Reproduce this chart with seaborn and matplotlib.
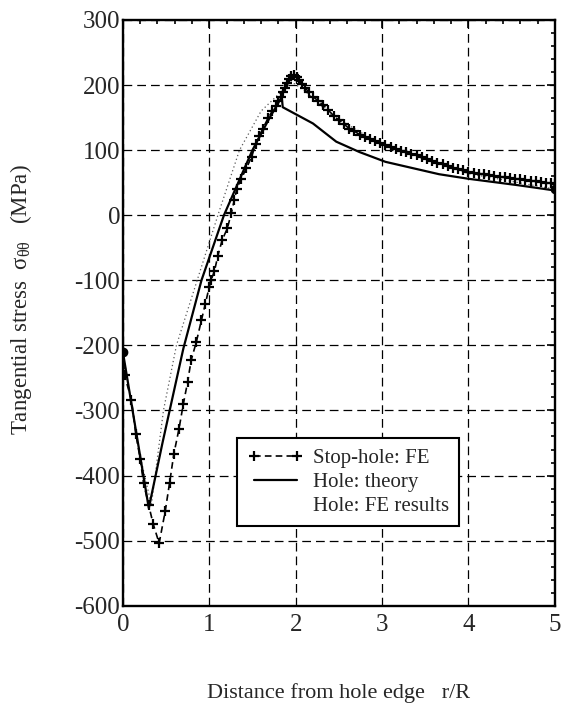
import numpy as np
import pandas as pd
import matplotlib
matplotlib.use("Agg")
import matplotlib.pyplot as plt
from matplotlib.ticker import MultipleLocator
import seaborn as sns

# ---------------- data ----------------
stop_x = [0.00, 0.02, 0.10, 0.15, 0.20, 0.24, 0.30, 0.35, 0.42, 0.49, 0.54, 0.59,
          0.65, 0.70, 0.75, 0.79, 0.85, 0.91, 0.955, 1.00, 1.02, 1.06, 1.10, 1.15,
          1.21, 1.255, 1.29, 1.32, 1.37, 1.43, 1.49, 1.54, 1.58, 1.62, 1.68, 1.73,
          1.77, 1.80, 1.825, 1.85, 1.88, 1.90, 1.92, 1.95, 1.98, 2.01, 2.04, 2.07,
          2.11, 2.15, 2.20, 2.26, 2.32, 2.38, 2.44, 2.50, 2.56, 2.62, 2.68, 2.74,
          2.80, 2.86, 2.92, 2.98, 3.04, 3.10, 3.16, 3.22, 3.28, 3.34, 3.40, 3.46,
          3.52, 3.58, 3.64, 3.70, 3.76, 3.82, 3.88, 3.94, 4.00, 4.06, 4.12, 4.18,
          4.24, 4.30, 4.36, 4.42, 4.48, 4.54, 4.60, 4.66, 4.72, 4.78, 4.84, 4.90,
          4.96, 5.00]
stop_y = [-210, -246, -284, -336, -374, -412, -446, -474, -504, -455, -412, -367,
          -328, -290, -256, -223, -195, -161, -136, -110, -100, -86, -62, -38,
          -20, 3, 23, 41, 56, 72, 90, 110, 122, 133, 149, 160,
          168, 175, 182, 190, 196, 203, 210, 214, 215, 212, 208, 202,
          196, 189, 182, 176, 169, 161, 153, 146, 140, 133, 129, 124,
          120, 117, 114, 111, 108, 105, 102, 99, 97, 94, 92, 89,
          86, 83, 80, 78, 75, 73, 71, 69, 67, 65, 64, 63,
          62, 60, 59, 58, 57, 56, 55, 54, 53, 52, 51, 50,
          49, 48]

theory_x = [0.00, 0.30, 0.46, 0.70, 0.91, 1.17, 1.50, 1.70, 1.84, 1.85, 2.20,
            2.47, 2.74, 3.04, 3.66, 4.00, 4.58, 5.00]
theory_y = [-210, -450, -349, -205, -100, 0, 100, 150, 182, 166, 141,
            113, 97, 82, 63, 56, 46, 38]

fe_x = [0.00, 0.08, 0.20, 0.33, 0.47, 0.62, 0.86, 1.10, 1.35, 1.60, 1.85,
        1.95, 2.10, 2.40, 3.00, 4.00, 5.00]
fe_y = [-210, -274, -370, -445, -300, -200, -100, 0, 100, 160, 192,
        205, 192, 155, 108, 64, 40]

labels = ["Stop-hole: FE", "Hole: theory", "Hole: FE results"]
x_ticks = [0, 1, 2, 3, 4, 5]
y_ticks = [-600, -500, -400, -300, -200, -100, 0, 100, 200, 300]

# ---------------- style ----------------
sns.set_theme(style="white")
plt.rcParams["font.family"] = ["Liberation Serif", "DejaVu Serif"]
plt.rcParams["mathtext.fontset"] = "custom"
plt.rcParams["mathtext.rm"] = "Liberation Serif"
plt.rcParams["mathtext.it"] = "Liberation Serif"
plt.rcParams["mathtext.bf"] = "Liberation Serif:bold"
plt.rcParams["axes.unicode_minus"] = False

fig = plt.figure(figsize=(5.61, 7.03), dpi=100)
ax = fig.add_axes([0.219, 0.1384, 0.770, 0.8332])

df_stop = pd.DataFrame({"x": stop_x, "y": stop_y})
df_theory = pd.DataFrame({"x": theory_x, "y": theory_y})
df_fe = pd.DataFrame({"x": fe_x, "y": fe_y})

sns.lineplot(data=df_fe, x="x", y="y", ax=ax, sort=False, estimator=None,
             color="0.35", linestyle=(0, (1, 2.2)), linewidth=0.9,
             label=labels[2], zorder=3)
sns.lineplot(data=df_theory, x="x", y="y", ax=ax, sort=False, estimator=None,
             color="black", linestyle="-", linewidth=1.6,
             label=labels[1], zorder=4)
sns.lineplot(data=df_stop, x="x", y="y", ax=ax, sort=False, estimator=None,
             color="black", linestyle=(0, (4, 2.5)), linewidth=1.2,
             marker="+", markersize=7.5, markeredgewidth=1.6,
             markeredgecolor="black", markerfacecolor="black",
             label=labels[0], zorder=5)

# end dots
ax.plot([fe_x[0], fe_x[-1]], [fe_y[0], fe_y[-1]], "o", color="black",
        markersize=6, zorder=6)

ax.set_xlim(0, 5)
ax.set_ylim(-600, 300)
ax.set_xticks(x_ticks)
ax.set_yticks(y_ticks)
ax.xaxis.set_minor_locator(MultipleLocator(0.2))
ax.yaxis.set_minor_locator(MultipleLocator(20))

ax.grid(True, which="major", color="black", linestyle=(0, (7, 4)), linewidth=0.9)
ax.set_axisbelow(True)

for s in ax.spines.values():
    s.set_visible(True)
    s.set_color("black")
    s.set_linewidth(1.7)

ax.tick_params(which="both", direction="in", top=True, right=True,
               color="black", width=1.2)
ax.tick_params(which="major", length=6, labelsize=18, pad=2)
ax.tick_params(which="minor", length=3)
ax.tick_params(axis="x", which="major", pad=6)

ax.set_xlabel("Distance from hole edge   r/R", fontsize=16, labelpad=34)
ax.set_ylabel(r"Tangential stress  $\sigma_{\theta\theta}$   (MPa)", fontsize=16.5)
ax.yaxis.set_label_coords(-0.205, 0.522)

handles, labs = ax.get_legend_handles_labels()
order = [labs.index(l) for l in labels]
handles = [handles[i] for i in order]
leg = ax.legend(handles, labels, loc="upper left", bbox_to_anchor=(0.264, 0.286),
                fontsize=15, frameon=True, fancybox=False, framealpha=1,
                edgecolor="black", handlelength=2.7, handletextpad=0.45,
                labelspacing=0.2, borderpad=0.5, numpoints=2, borderaxespad=0)
leg.get_frame().set_linewidth(1.5)
leg.legend_handles[2].set_visible(False)

fig.savefig("out.png", dpi=100)
